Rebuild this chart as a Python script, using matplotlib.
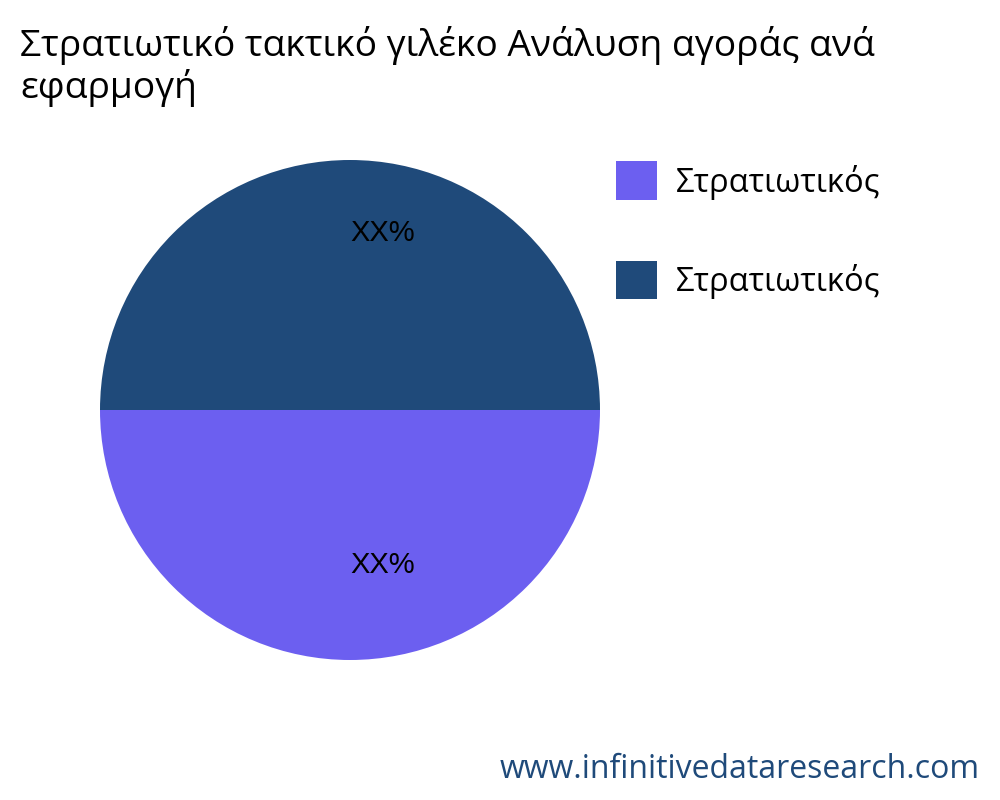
import matplotlib
matplotlib.use('Agg')
import matplotlib.pyplot as plt
import numpy as np

plt.rcParams['font.family'] = ['Open Sans', 'DejaVu Sans']

# data
title = 'Στρατιωτικό τακτικό γιλέκο Ανάλυση αγοράς ανά\nεφαρμογή'
categories = ['Στρατιωτικός', 'Στρατιωτικός']
values = [50, 50]
pct_labels = ['XX%', 'XX%']
colors = ['#6c5ff0', '#1f4a7a']
label_dist = [0.62, 0.71]

fig = plt.figure(figsize=(10, 8), dpi=100)
ax = fig.add_axes([0.1, 0.175, 0.5, 0.625])

wedges, _ = ax.pie(values, colors=colors, startangle=180, counterclock=True,
                   wedgeprops=dict(linewidth=0))
ax.set_xlim(-1, 1)
ax.set_ylim(-1, 1)
ax.set_aspect('equal')

# percentage labels (left edge sits on the wedge's mid line, as in the original)
for w, lab, d in zip(wedges, pct_labels, label_dist):
    ang = np.deg2rad((w.theta1 + w.theta2) / 2)
    ax.text(d * np.cos(ang), d * np.sin(ang), lab, ha='left', va='center',
            fontsize=21, family=['Liberation Sans', 'DejaVu Sans'], color='black')

fig.text(0.02, 0.967, title, ha='left', va='top', fontsize=26.8, linespacing=1.13)

fig.legend(wedges, categories, loc='upper left', bbox_to_anchor=(0.587, 0.835),
           frameon=False, fontsize=23.5, handlelength=1.23, handleheight=1.45,
           labelspacing=1.85, handletextpad=0.6)

fig.text(0.98, 0.018, 'www.infinitivedataresearch.com', ha='right', va='bottom',
         fontsize=23, color='#1f4a7a')

fig.savefig('out.png', dpi=100)
